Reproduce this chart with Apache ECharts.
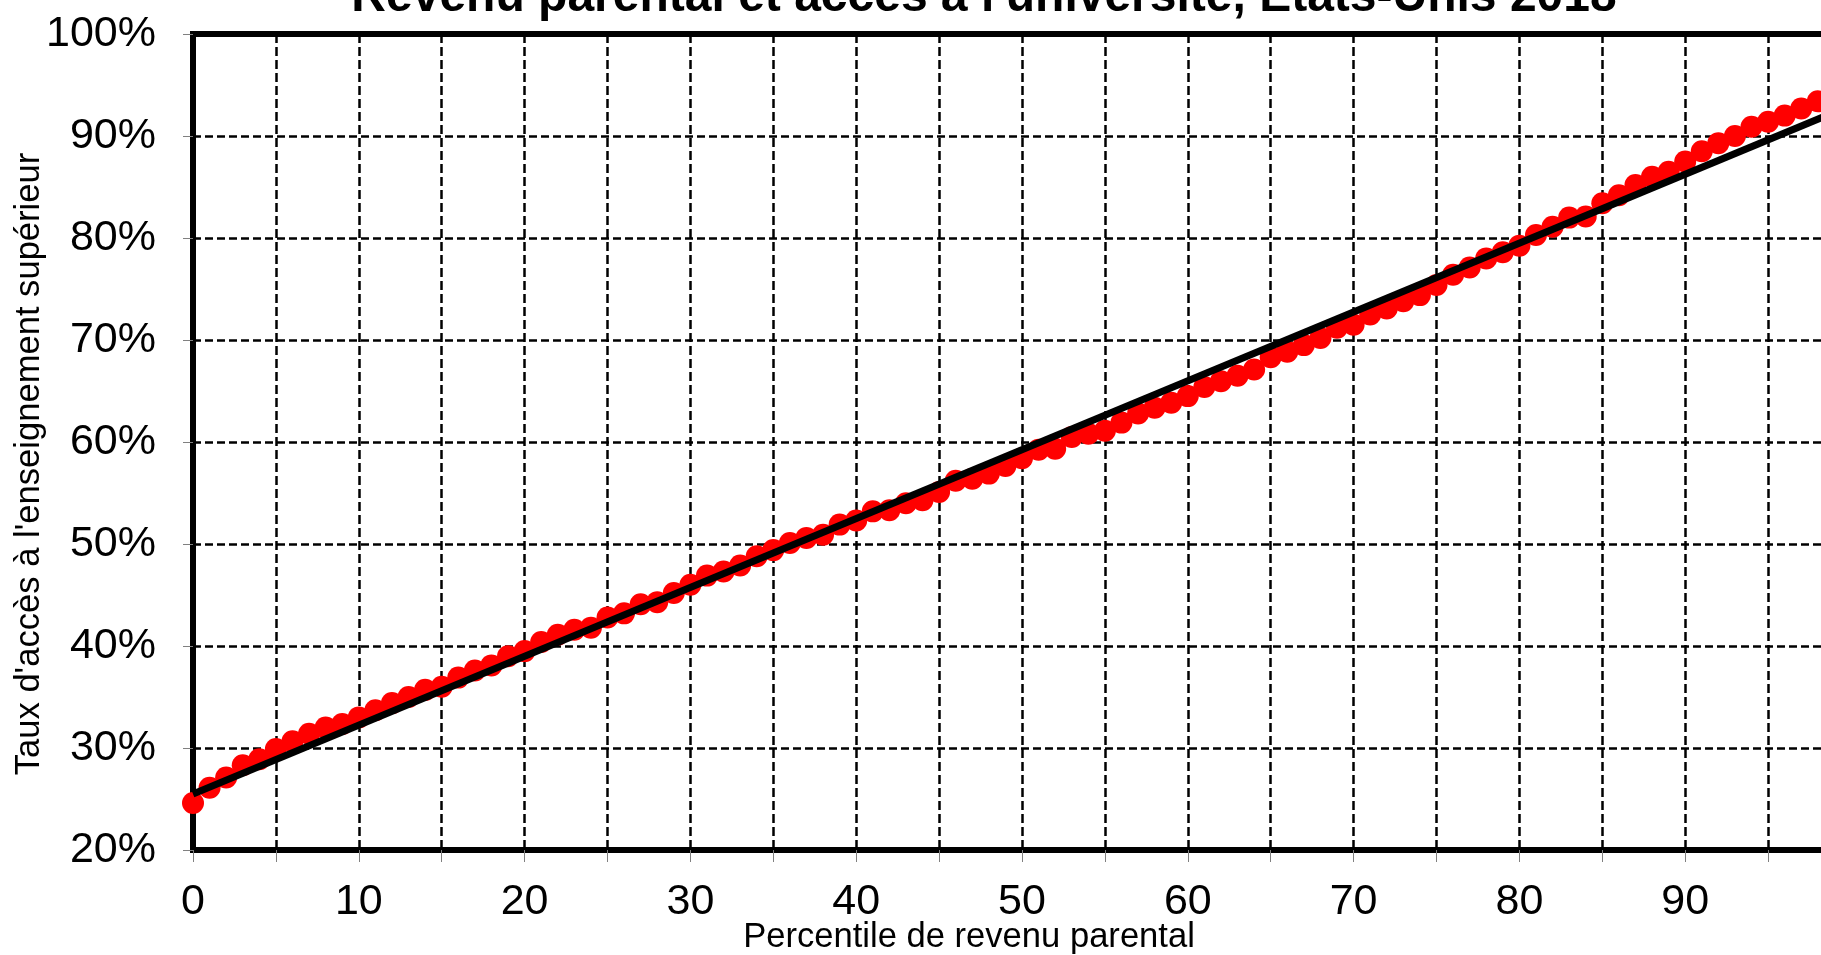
<!DOCTYPE html>
<html>
<head>
<meta charset="utf-8">
<script src="https://cdn.jsdelivr.net/npm/echarts@6/dist/echarts.min.js"></script>
<style>
  html, body { margin: 0; padding: 0; background: #fff; }
  #chart { width: 1821px; height: 955px; }
</style>
</head>
<body>
<div id="chart"></div>
<script>
// taux d'accès à l'enseignement supérieur (%), par percentile de revenu parental (0..99)
var accessRate = [
  24.6, 26.1, 27.1, 28.3, 28.9, 29.9, 30.65, 31.4, 32.0, 32.35,
  33.0, 33.7, 34.4, 35.0, 35.7, 36.0, 36.9, 37.6, 38.1, 39.0,
  39.5, 40.4, 41.1, 41.6, 41.8, 42.8, 43.2, 44.1, 44.3, 45.2,
  46.0, 46.9, 47.3, 47.9, 48.8, 49.4, 50.1, 50.6, 50.9, 51.9,
  52.3, 53.2, 53.3, 54.0, 54.3, 55.1, 56.2, 56.4, 56.9, 57.65,
  58.4, 59.25, 59.35, 60.5, 60.8, 61.1, 61.9, 62.8, 63.35, 63.85,
  64.5, 65.4, 65.95, 66.5, 67.1, 68.3, 68.85, 69.5, 70.2, 71.2,
  71.5, 72.5, 73.1, 73.8, 74.4, 75.4, 76.4, 77.1, 78.0, 78.6,
  79.25, 80.3, 81.1, 82.0, 82.1, 83.4, 84.2, 85.2, 86.0, 86.5,
  87.5, 88.5, 89.3, 90.0, 90.9, 91.4, 92.0, 92.7, 93.4, 94.0
];

// droite d'ajustement
var fitX = [0, 100];
var fitY = [25.5, 93.0];

var titleText = "Revenu parental et accès à l'université, Etats-Unis 2018";
var xTitle = 'Percentile de revenu parental';
var yTitle = "Taux d'accès à l'enseignement supérieur";

var FONT = '"Liberation Sans", Arial, sans-serif';

var points = accessRate.map(function (v, i) { return [i, v]; });
var fitLine = fitX.map(function (x, i) { return [x, fitY[i]]; });

var chart = echarts.init(document.getElementById('chart'));

chart.setOption({
  animation: false,
  backgroundColor: '#fff',
  grid: {
    left: 193,
    top: 34,
    width: 1658,
    height: 816,
    outerBoundsMode: 'none',
    containLabel: false,
    show: true,
    borderColor: '#000',
    borderWidth: 6
  },
  xAxis: {
    type: 'value',
    min: 0,
    max: 100,
    interval: 5,
    axisLine: { lineStyle: { color: '#000', width: 6 } },
    axisTick: { length: 12, lineStyle: { color: '#808080', width: 1 } },
    axisLabel: {
      margin: 31,
      color: '#000',
      fontFamily: FONT,
      fontSize: 43,
      // le cadre est coupé à droite : pas d'étiquette 100
      formatter: function (v) { return v % 10 === 0 && v < 100 ? String(v) : ''; }
    },
    splitLine: { lineStyle: { color: '#000', width: 2.5, type: [9, 4] } }
  },
  yAxis: {
    type: 'value',
    min: 20,
    max: 100,
    interval: 10,
    axisLine: { lineStyle: { color: '#000', width: 6 } },
    axisTick: { length: 10, lineStyle: { color: '#808080', width: 1 } },
    axisLabel: {
      margin: 37,
      color: '#000',
      fontFamily: FONT,
      fontSize: 43,
      formatter: '{value}%'
    },
    splitLine: { lineStyle: { color: '#000', width: 2.5, type: [8, 4] } }
  },
  graphic: [
    {
      type: 'text', x: 984, y: -2,
      style: {
        text: titleText, fill: '#000', font: 'bold 48px ' + FONT,
        textAlign: 'center', textVerticalAlign: 'middle'
      }
    },
    {
      type: 'text', x: 969, y: 937,
      style: {
        text: xTitle, fill: '#000', font: '34.6px ' + FONT,
        textAlign: 'center', textVerticalAlign: 'middle'
      }
    },
    {
      type: 'text', x: 29, y: 464, rotation: Math.PI / 2,
      style: {
        text: yTitle, fill: '#000', font: '34.6px ' + FONT,
        textAlign: 'center', textVerticalAlign: 'middle'
      }
    }
  ],
  series: [
    {
      type: 'scatter',
      data: points,
      symbolSize: 22,
      clip: false,
      itemStyle: { color: '#ff0000', opacity: 1 },
      z: 2
    },
    {
      type: 'line',
      data: fitLine,
      showSymbol: false,
      symbol: 'none',
      clip: false,
      lineStyle: { color: '#000', width: 7 },
      z: 3
    }
  ]
});
</script>
</body>
</html>
